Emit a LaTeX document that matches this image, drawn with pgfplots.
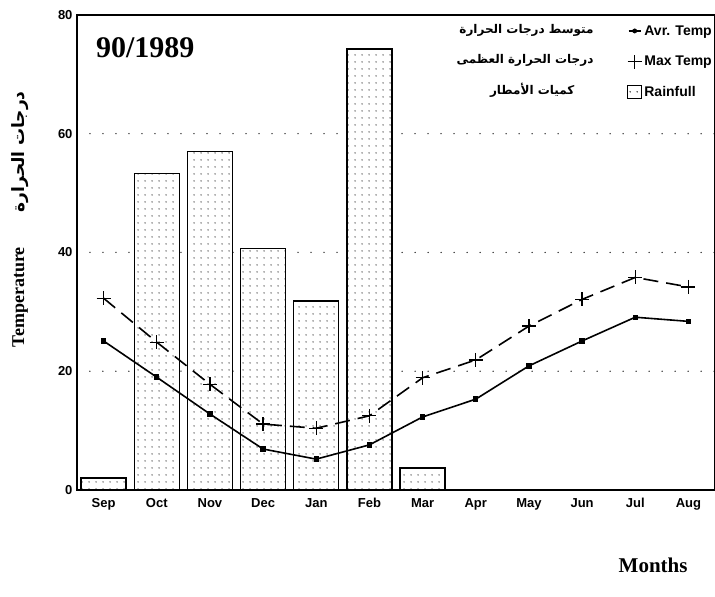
\documentclass[border=0pt]{standalone}
\usepackage{pgfplots}
\pgfplotsset{compat=1.18}
\usetikzlibrary{patterns.meta}
\usepackage{fontspec}
\setmainfont{Liberation Serif}
\setsansfont{Liberation Sans}
\newfontfamily\arabicfont[Script=Arabic]{DejaVu Sans}
\TeXXeTstate=1
\tikzdeclarepattern{
  name=sparsedots,
  type=uncolored,
  bounding box={(0pt,0pt) and (6.6pt,6.6pt)},
  tile size={(6.6pt,6.6pt)},
  code={\fill (3.3pt,3.3pt) circle (0.8pt);}
}
\begin{document}
\begin{tikzpicture}
\begin{axis}[
  name=ax,
  scale only axis, width=638pt, height=475pt,
  xmin=-0.5, xmax=11.5, ymin=0, ymax=80,
  clip=false,
  xtick={0,...,11},
  xticklabels={Sep,Oct,Nov,Dec,Jan,Feb,Mar,Apr,May,Jun,Jul,Aug},
  ytick={0,20,40,60,80},
  major tick length=0pt,
  ymajorgrids,
  major grid style={black!85, line width=1.5pt, line cap=round, dash pattern=on 0pt off 13pt},
  axis line style={line width=1.7pt},
  tick label style={font=\sffamily\bfseries\fontsize{13}{15}\selectfont},
  /pgf/number format/assume math mode=true,
  xticklabel style={yshift=-5pt},
  yticklabel style={xshift=-1pt},
  legend style={at={(axis description cs:1,0.987)}, anchor=north east, draw=none, fill=none,
    font=\sffamily\bfseries\fontsize{14}{16}\selectfont, row sep=15.5pt, inner xsep=1pt,
    /tikz/every even column/.append style={column sep=0pt}},
  legend cell align=left,
]
\addlegendimage{legend image code/.code={\draw[black,line width=1.4pt] (0pt,0pt) -- (12pt,0pt); \fill[black] (6pt,0pt) circle (2.2pt);}}
\addlegendentry{Avr. Temp}
\addlegendimage{legend image code/.code={\draw[black,line width=1.3pt] (6pt,-7pt) -- (6pt,7pt) (-1pt,0pt) -- (13pt,0pt);}}
\addlegendentry{Max Temp}
\addlegendimage{legend image code/.code={\draw[black,line width=1.4pt,fill=white,postaction={pattern=sparsedots,pattern color=black!80}] (-1pt,-6pt) rectangle (13pt,7pt);}}
\addlegendentry{Rainfull}

\addplot[ybar, bar width=45pt, draw=black, line width=1.4pt, fill=white,
  postaction={pattern=sparsedots, pattern color=black!60}, forget plot]
  coordinates {(0,2.0) (1,53.3) (2,57.0) (3,40.7) (4,31.8) (5,74.3) (6,3.7)};

\addplot[black, line width=1.6pt, mark=square*, mark size=1.9pt, forget plot]
  coordinates {(0,25.1) (1,19.0) (2,12.8) (3,6.9) (4,5.2) (5,7.6) (6,12.3) (7,15.3) (8,20.9) (9,25.1) (10,29.1) (11,28.4)};

\addplot[black, line width=1.6pt, dash pattern=on 15pt off 8pt, mark=+, mark size=7pt,
  mark options={solid, line width=1.3pt}, forget plot]
  coordinates {(0,32.3) (1,24.9) (2,17.8) (3,11.1) (4,10.4) (5,12.5) (6,18.9) (7,21.9) (8,27.6) (9,32.1) (10,35.8) (11,34.2)};

\node[font=\bfseries\fontsize{30}{32}\selectfont] at (axis description cs:0.107,0.931) {90/1989};
\node[font=\bfseries\fontsize{21}{24}\selectfont] at (axis description cs:0.903,-0.158) {Months};
\node[rotate=90, font=\bfseries\fontsize{18}{20}\selectfont] at (axis description cs:-0.0893,0.406) {Temperature};
\node[rotate=90, font=\arabicfont\bfseries\fontsize{17}{19}\selectfont] at (axis description cs:-0.0893,0.712) {\beginR درجات الحرارة\endR};

\node[anchor=east, font=\arabicfont\bfseries\fontsize{12}{14}\selectfont] at (axis description cs:0.815,0.968) {\beginR متوسط درجات الحرارة\endR};
\node[anchor=east, font=\arabicfont\bfseries\fontsize{12}{14}\selectfont] at (axis description cs:0.815,0.905) {\beginR درجات الحرارة العظمى\endR};
\node[anchor=east, font=\arabicfont\bfseries\fontsize{12}{14}\selectfont] at (axis description cs:0.785,0.842) {\beginR كميات الأمطار\endR};
\end{axis}
\pgfresetboundingbox
\path ([shift={(-77pt,-107pt)}]ax.south west) rectangle ([shift={(0pt,15pt)}]ax.north east);
\end{tikzpicture}
\end{document}
